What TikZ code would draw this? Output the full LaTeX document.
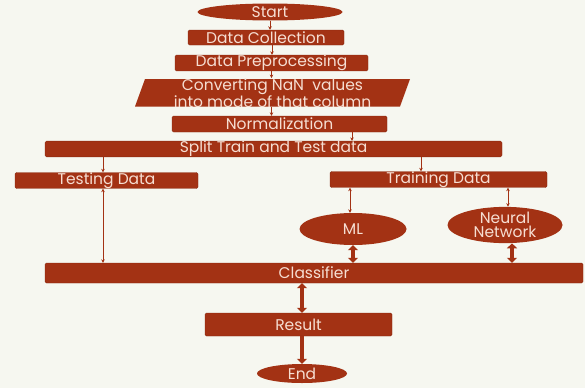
\documentclass[tikz,border=0pt]{standalone}
\usepackage{fontspec}
\setmainfont{Poppins}
\usetikzlibrary{arrows.meta,shapes.geometric,calc}
\definecolor{boxc}{RGB}{163,50,20}
\definecolor{txtc}{RGB}{246,222,210}
\definecolor{bgc}{RGB}{246,247,240}
\begin{document}
\begin{tikzpicture}[x=1pt,y=-1pt,
  box/.style={draw=boxc!85!black,line width=0.4pt,fill=boxc,rounded corners=1.5pt,inner sep=0pt,
    text=txtc,font=\fontsize{15.5}{16}\selectfont},
  oval/.style={ellipse,fill=boxc,inner sep=0pt,text=txtc,font=\fontsize{15.5}{16}\selectfont},
  thinarr/.style={draw=boxc,line width=0.7pt,-{Stealth[length=3.5pt,width=3.5pt]}},
  thinbi/.style={draw=boxc,line width=0.7pt,{Stealth[length=3.5pt,width=3.5pt]}-{Stealth[length=3.5pt,width=3.5pt]}},
  thickarr/.style={draw=boxc,line width=3.5pt,-{Triangle[length=5pt,width=10pt]}},
  thickbi/.style={draw=boxc,line width=3.5pt,{Triangle[length=5pt,width=10pt]}-{Triangle[length=5pt,width=10pt]}}
]
\useasboundingbox (0,0) rectangle (585,388);
\fill[bgc] (0,0) rectangle (585,388);
% nodes
\node[oval,minimum width=145,minimum height=17] (start) at (270,12) {Start};
\node[box,minimum width=156,minimum height=15] (dc) at (266,37.5) {Data Collection};
\node[box,minimum width=193,minimum height=15] (dp) at (271.5,63) {Data Preprocessing};
\fill[boxc] (145,79) -- (410,79) -- (400,106.5) -- (135,106.5) -- cycle;
\node[inner sep=0pt,minimum width=265,minimum height=27.5,text=txtc,align=center,
  font=\fontsize{15.5}{13}\selectfont] (conv) at (272.5,92.75) {Converting NaN\ \ values\\into mode of that column};
\node[box,minimum width=215,minimum height=16] (norm) at (279.5,124) {Normalization};
\node[box,minimum width=457,minimum height=14] (split) at (273.5,149) {Split Train and Test data};
\node[box,minimum width=183,minimum height=15] (test) at (106.5,180.5) {Testing Data};
\node[box,minimum width=217,minimum height=15] (train) at (438.5,179.5) {Training Data};
\node[oval,minimum width=107,minimum height=32] (ml) at (353,229) {ML};
\node[oval,minimum width=115,minimum height=26,align=center,
  font=\fontsize{15.5}{14}\selectfont] (nn) at (505,225) {Neural\\Network};
\node[box,minimum width=538,minimum height=20] (cls) at (314,273) {Classifier};
\node[box,minimum width=187,minimum height=23] (res) at (298.5,324.5) {Result};
\node[oval,minimum width=90,minimum height=19] (end) at (302,373.5) {End};
% connectors
\draw[thinarr] (start.south) -- (start.south |- dc.north);
\draw[thinarr] ([xshift=6pt]dc.south) -- ([xshift=6pt]dc.south |- dp.north);
\draw[thinarr] (dp.south) -- (dp.south |- conv.north);
\draw[thinarr] (dp.south |- conv.south) -- (dp.south |- norm.north);
\draw[thinarr] ([xshift=72.5pt]norm.south) -- ([xshift=72.5pt]norm.south |- split.north);
\draw[thinarr] ([xshift=-3.5pt]test.north |- split.south) -- ([xshift=-3.5pt]test.north);
\draw[thinarr] ([xshift=-17.5pt]train.north |- split.south) -- ([xshift=-17.5pt]train.north);
\draw[thinbi] ([xshift=-3.5pt]test.south) -- ([xshift=-3.5pt]test.south |- cls.north);
\draw[thinbi] ([xshift=-3pt]ml.north |- train.south) -- ([xshift=-3pt]ml.north);
\draw[thinbi] ([xshift=3pt]nn.north |- train.south) -- ([xshift=3pt]nn.north);
\draw[thickbi] (ml.south) -- (ml.south |- cls.north);
\draw[thickbi] ([xshift=7pt]nn.south) -- ([xshift=7pt]nn.south |- cls.north);
\draw[thickbi] (cls.south -| end.north) -- (res.north -| end.north);
\draw[thickarr] (res.south -| end.north) -- (end.north);
\end{tikzpicture}
\end{document}
